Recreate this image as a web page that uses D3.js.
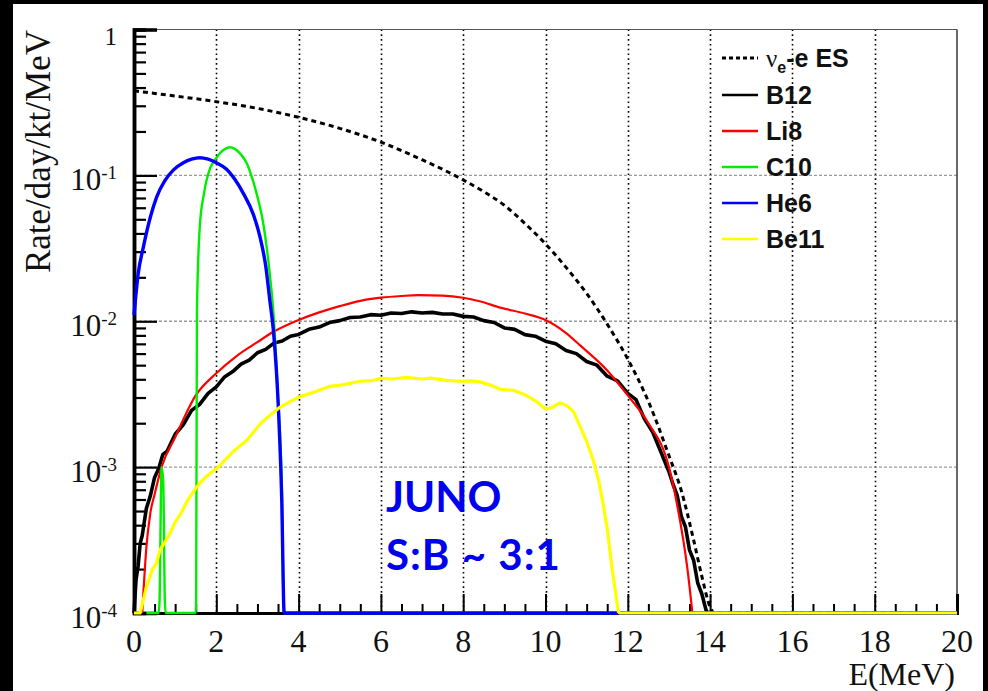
<!DOCTYPE html>
<html><head><meta charset="utf-8">
<script src="https://cdn.jsdelivr.net/npm/d3@7"></script>
<style>html,body{margin:0;padding:0;background:#000;}svg{display:block;}</style>
</head><body>
<script>
// ---------- data ----------
const xTicks = [0,2,4,6,8,10,12,14,16,18,20];
const yDecades = [1e-4,1e-3,1e-2,1e-1,1];
const yExp = ["-4","-3","-2","-1",""];
const seriesNames = ["ES","B12","Li8","C10","He6","Be11"];

const esE = [0,1,2,3,4,5,6,7,7.5,8,8.5,9,9.5,10,10.5,11,11.5,12,12.5,13,13.3,13.6,13.8,14.0,14.1,19];
const esV = [0.38,0.35,0.32,0.288,0.25,0.21,0.169,0.128,0.11,0.093,0.0773,0.0624,0.0468,0.0339,0.0234,0.0155,0.00955,0.0055,0.00282,0.0012,0.00069,0.000316,0.000178,0.00011,0,0];

const b12E = [0,0.05,0.1,0.15,0.2,0.3,0.4,0.5,0.6,0.7,0.8,1.0,1.2,1.4,1.6,1.8,2.0,2.2,2.4,2.6,2.8,3.0,3.2,3.4,3.6,3.8,
  4.0,4.25,4.5,4.75,5.0,5.25,5.5,5.75,6.0,6.25,6.5,6.75,7.0,7.25,7.5,7.75,8.0,8.25,8.5,8.75,9.0,9.25,9.5,9.75,10.0,10.25,10.5,10.75,11.0,11.25,11.5,11.75,
  12.0,12.2,12.4,12.6,12.8,13.0,13.1,13.2,13.3,13.4,13.5,13.6,13.7,13.8,13.9,13.95];
const b12V = [1e-4,1.7e-4,2.1e-4,3.0e-4,3.4e-4,5.2e-4,6.4e-4,8.5e-4,9.8e-4,1.22e-3,1.28e-3,1.68e-3,1.96e-3,2.45e-3,2.7e-3,3.2e-3,3.55e-3,4.15e-3,4.52e-3,5.08e-3,5.42e-3,6.08e-3,6.42e-3,7.08e-3,7.32e-3,7.9e-3,
  8.12e-3,8.8e-3,9.12e-3,9.8e-3,0.0101,0.0106,0.0107,0.0111,0.0110,0.0114,0.0113,0.0116,0.0114,0.0115,0.0112,0.0112,0.0108,0.0107,0.0101,0.0098,0.0090,0.0088,0.0081,0.0079,0.0073,0.0070,0.0063,0.0060,0.0053,0.0050,0.0042,0.0039,
  0.0032,0.0029,0.00215,0.00175,0.00128,0.00093,0.00076,0.00064,0.00046,0.00039,0.00027,0.00023,0.00016,0.000135,0.000105,0];

const li8E = [0.2,0.23,0.3,0.4,0.5,0.67,1.0,1.5,2.0,2.5,3.0,3.4,4.0,4.5,5.0,5.5,6.0,6.5,6.9,7.5,8.0,8.4,8.9,9.5,10.0,10.5,10.85,11.5,12.0,12.5,13.0,13.2,13.45,13.57];
const li8V = [1e-4,1.4e-4,2.8e-4,4.9e-4,6.5e-4,1e-3,1.6e-3,3.1e-3,4.4e-3,5.8e-3,7.2e-3,8.5e-3,0.0102,0.0115,0.0127,0.0138,0.0145,0.0149,0.0151,0.015,0.0145,0.0137,0.0124,0.0113,0.0102,0.0083,0.0068,0.0046,0.0031,0.002,0.001,0.00055,0.0002,0.0001];

const c10E = [0.3,0.6,0.62,0.67,0.71,0.75,0.77,1.5,1.51,1.53,1.6,1.7,1.85,1.97,2.1,2.2,2.33,2.45,2.6,2.74,2.85,2.98,3.14,3.3,3.39,3.5,3.6,3.64,3.66,20];
const c10V = [0,0,1.2e-4,1e-3,8e-4,1.2e-4,0,0,1.2e-4,0.012,0.045,0.075,0.112,0.128,0.143,0.151,0.156,0.152,0.139,0.121,0.1,0.075,0.047,0.021,0.0113,0.003,0.0006,0.0001,0,0];

const he6E = [0,0.1,0.23,0.4,0.55,0.75,0.96,1.2,1.4,1.6,1.8,2.0,2.25,2.45,2.66,2.9,3.06,3.2,3.3,3.39,3.51,3.59,3.65,3.7,20];
const he6V = [0.011,0.021,0.0325,0.052,0.071,0.092,0.109,0.122,0.129,0.132,0.129,0.122,0.110,0.094,0.075,0.054,0.038,0.024,0.014,0.0085,0.0025,0.0006,0.0001,0,0];

const be11E = [0,0.15,0.3,0.45,0.55,0.63,0.85,1.0,1.12,1.3,1.52,1.75,2.05,2.4,2.74,3.1,3.55,4.0,4.4,4.76,5.1,5.49,5.8,6.0,6.3,6.6,7.0,7.2,7.6,7.92,
  8.2,8.41,8.7,8.89,9.22,9.5,9.75,10.0,10.15,10.35,10.52,10.68,10.84,11.0,11.16,11.3,11.4,11.5,11.61,11.7,11.77,11.8,20];
const be11V = [0,0,1.5e-4,2.0e-4,2.2e-4,2.7e-4,3.4e-4,4.2e-4,4.7e-4,5.9e-4,7.3e-4,8.6e-4,1.0e-3,1.27e-3,1.53e-3,2.02e-3,2.58e-3,3.02e-3,3.28e-3,3.58e-3,3.68e-3,3.88e-3,3.92e-3,4.06e-3,4.02e-3,4.12e-3,4.02e-3,4.08e-3,3.93e-3,3.88e-3,
  3.9e-3,3.84e-3,3.62e-3,3.42e-3,3.36e-3,3.14e-3,2.86e-3,2.5e-3,2.56e-3,2.76e-3,2.64e-3,2.4e-3,1.9e-3,1.5e-3,1.12e-3,7.9e-4,5.6e-4,3.8e-4,2.1e-4,1.4e-4,1.02e-4,0,0];

// ---------- layout ----------
const W = 988, H = 691;
const L = 134, R = 957, T = 29.5, B = 613;
const svg = d3.select("body").append("svg").attr("width", W).attr("height", H);
svg.append("rect").attr("width", W).attr("height", H).attr("fill", "#000");
svg.append("rect").attr("x", 13).attr("y", 4).attr("width", 970).attr("height", H - 4).attr("fill", "#fff");

const x = d3.scaleLinear().domain([0, 20]).range([L, R]);
const y = d3.scaleLog().domain([1e-4, 1]).range([B, T]);
const floorV = 1e-4;

// grid
const g = svg.append("g");
g.selectAll("line.vg").data(xTicks.filter(d => d > 0 && d < 20)).join("line")
  .attr("x1", d => Math.round(x(d)) + 0.5).attr("x2", d => Math.round(x(d)) + 0.5).attr("y1", T).attr("y2", B)
  .attr("stroke", "#000").attr("stroke-width", 1.6).attr("stroke-dasharray", "1.6,3.2");
g.selectAll("line.hg").data(yDecades.filter(d => d > 1e-4 && d < 1)).join("line")
  .attr("x1", L).attr("x2", R).attr("y1", d => y(d)).attr("y2", d => y(d))
  .attr("stroke", "#999").attr("stroke-width", 1.3).attr("stroke-dasharray", "3,2");

// frame top / right
svg.append("line").attr("x1", L).attr("x2", R).attr("y1", T).attr("y2", T).attr("stroke", "#555").attr("stroke-width", 1.2);
svg.append("line").attr("x1", R).attr("x2", R).attr("y1", T).attr("y2", B).attr("stroke", "#444").attr("stroke-width", 1.6);

// axes (ticks inside)
const xMinor = d3.range(0, 20.01, 0.5).filter(d => d % 2 !== 0);
const axB = svg.append("g").attr("transform", `translate(0,${B})`);
axB.call(d3.axisBottom(x).tickValues(xTicks).tickSize(-19).tickFormat(""));
axB.append("g").call(d3.axisBottom(x).tickValues(xMinor).tickSize(-9).tickFormat(""));
axB.selectAll(".domain").attr("stroke", "#000").attr("stroke-width", 3);
axB.selectAll(".tick line").attr("stroke", "#000").attr("stroke-width", 2);

const yMinor = [];
for (let p = -4; p < 0; p++) for (let k = 2; k <= 9; k++) yMinor.push(k * Math.pow(10, p));
const axL = svg.append("g").attr("transform", `translate(${L},0)`);
axL.call(d3.axisLeft(y).tickValues(yDecades).tickSize(-23).tickFormat(""));
axL.append("g").call(d3.axisLeft(y).tickValues(yMinor).tickSize(-12).tickFormat(""));
axL.selectAll(".domain").attr("stroke", "#000").attr("stroke-width", 3.5);
axL.selectAll(".tick line").attr("stroke", "#000").attr("stroke-width", 2.2);

// tick labels
const serif = "'Liberation Serif','Times New Roman',serif";
svg.append("g").selectAll("text").data(xTicks).join("text")
  .attr("x", d => x(d)).attr("y", 652).attr("text-anchor", "middle")
  .attr("font-family", serif).attr("font-size", 32).attr("fill", "#111").text(d => d);

const yl = svg.append("g");
yDecades.forEach((d, i) => {
  if (yExp[i] === "") {
    yl.append("text").attr("x", 117).attr("y", y(d) + 15.5).attr("text-anchor", "end")
      .attr("font-family", serif).attr("font-size", 25).attr("fill", "#111").text("1");
  } else {
    const t = yl.append("text").attr("x", 117).attr("y", y(d) + 15).attr("text-anchor", "end")
      .attr("font-family", serif).attr("font-size", 31).attr("fill", "#111");
    t.append("tspan").text("10");
    t.append("tspan").attr("font-size", 19).attr("dy", -11).text(yExp[i]);
  }
});

// axis titles
svg.append("text").attr("x", 955).attr("y", 685).attr("text-anchor", "end")
  .attr("font-family", serif).attr("font-size", 32).attr("fill", "#111").text("E(MeV)");
svg.append("text").attr("transform", "translate(50,30) rotate(-90)").attr("text-anchor", "end")
  .attr("font-family", serif).attr("font-size", 35).attr("fill", "#111").text("Rate/day/kt/MeV");

// curves
svg.append("clipPath").attr("id", "clip").append("rect")
  .attr("x", L - 2).attr("y", T - 2).attr("width", R - L + 4).attr("height", B - T + 4);
const smooth = d3.line().x(d => x(d[0])).y(d => y(Math.max(d[1], floorV))).curve(d3.curveMonotoneX);
const rough = d3.line().x(d => x(d[0])).y(d => y(Math.max(d[1], floorV)));
const series = [
  {name: "ES",  pts: d3.zip(esE, esV),   color: "#000", w: 3,   dash: "5,4", gen: smooth},
  {name: "B12", pts: d3.zip(b12E, b12V), color: "#000", w: 3.6, dash: null, gen: rough},
  {name: "Li8", pts: d3.zip(li8E, li8V), color: "#ff0000", w: 2.2, dash: null, gen: smooth},
  {name: "C10", pts: d3.zip(c10E, c10V), color: "#00ee00", w: 2.4, dash: null, gen: smooth},
  {name: "He6", pts: d3.zip(he6E, he6V), color: "#0000ff", w: 3.4, dash: null, gen: smooth},
  {name: "Be11",pts: d3.zip(be11E, be11V), color: "#ffff00", w: 3.2, dash: null, gen: rough}
];
const cg = svg.append("g").attr("clip-path", "url(#clip)");
series.forEach(s => {
  cg.append("path").attr("d", s.gen(s.pts)).attr("fill", "none")
    .attr("stroke", s.color).attr("stroke-width", s.w)
    .attr("stroke-dasharray", s.dash).attr("stroke-linejoin", "round");
});

// legend
const lg = svg.append("g");
const rowY = [58, 95, 131, 167, 203, 239];
series.forEach((s, i) => {
  lg.append("line").attr("x1", 722).attr("x2", 758).attr("y1", rowY[i]).attr("y2", rowY[i])
    .attr("stroke", s.color).attr("stroke-width", s.name === "ES" ? 3 : 2.5)
    .attr("stroke-dasharray", s.name === "ES" ? "4,3" : null);
  const t = lg.append("text").attr("x", 766).attr("y", rowY[i] + 9)
    .attr("font-family", "'Liberation Sans',Arial,sans-serif").attr("font-weight", "bold")
    .attr("font-size", 25).attr("fill", "#111");
  if (s.name === "ES") {
    t.append("tspan").attr("font-family", serif).attr("font-weight", "normal").text("ν");
    t.append("tspan").attr("font-size", 16).attr("dy", 6).text("e");
    t.append("tspan").attr("dy", -6).text("-e ES");
  } else {
    t.text(s.name);
  }
});

// annotation
const ann = svg.append("g").attr("font-family", "Lato,'Open Sans',sans-serif").attr("font-weight", "bold")
  .attr("font-size", 42).attr("fill", "#0000f0");
ann.append("text").attr("x", 386).attr("y", 512).text("JUNO");
ann.append("text").attr("x", 386).attr("y", 570).attr("letter-spacing", 1).text("S:B ~ 3:1");
</script>
</body></html>
